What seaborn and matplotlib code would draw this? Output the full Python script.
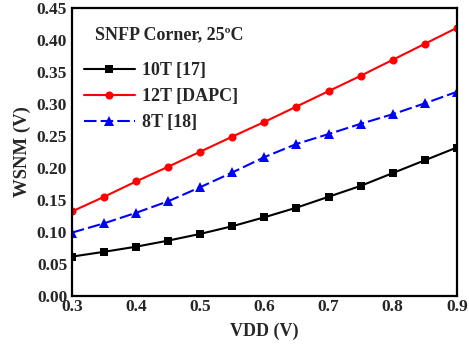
import matplotlib
matplotlib.use("Agg")
import matplotlib.pyplot as plt
import seaborn as sns
import pandas as pd
from matplotlib.ticker import MultipleLocator

vdd = [0.30, 0.35, 0.40, 0.45, 0.50, 0.55, 0.60, 0.65, 0.70, 0.75, 0.80, 0.85, 0.90]
wsnm_10t = [0.0615, 0.069, 0.077, 0.0865, 0.097, 0.109, 0.123, 0.138, 0.155, 0.172, 0.192, 0.212, 0.232]
wsnm_12t = [0.132, 0.155, 0.179, 0.202, 0.2255, 0.249, 0.272, 0.296, 0.320, 0.344, 0.369, 0.394, 0.419]
wsnm_8t = [0.099, 0.1135, 0.130, 0.148, 0.170, 0.193, 0.217, 0.2375, 0.253, 0.269, 0.284, 0.301, 0.319]
series_names = ["10T [17]", "12T [DAPC]", "8T [18]"]
x_ticks = [0.3, 0.4, 0.5, 0.6, 0.7, 0.8, 0.9]
y_ticks = [0.00, 0.05, 0.10, 0.15, 0.20, 0.25, 0.30, 0.35, 0.40, 0.45]

sns.set_style("white")
plt.rcParams["font.family"] = ["Liberation Serif", "DejaVu Serif"]
plt.rcParams["font.weight"] = "bold"

df = pd.DataFrame({
    "VDD": vdd * 3,
    "WSNM": wsnm_10t + wsnm_12t + wsnm_8t,
    "Cell": [series_names[0]] * len(vdd) + [series_names[1]] * len(vdd) + [series_names[2]] * len(vdd),
})

fig = plt.figure(figsize=(4.69, 3.49), dpi=100)
ax = fig.add_axes([0.1535, 0.152, 0.8205, 0.825])

palette = {series_names[0]: "black", series_names[1]: "red", series_names[2]: "blue"}
markers = {series_names[0]: "s", series_names[1]: "o", series_names[2]: "^"}
dashes = {series_names[0]: "", series_names[1]: "", series_names[2]: (6, 2)}

sns.lineplot(data=df, x="VDD", y="WSNM", hue="Cell", style="Cell",
             palette=palette, markers=markers, dashes=dashes,
             markersize=5.8, linewidth=1.5, markeredgewidth=0, ax=ax)
for ln in ax.get_lines():
    if ln.get_marker() == "^":
        ln.set_markersize(7.2)

ax.set_xlim(0.3, 0.9)
ax.set_ylim(0, 0.45)
ax.set_xticks(x_ticks)
ax.set_yticks(y_ticks)
ax.set_xticklabels([f"{v:.1f}" for v in x_ticks])
ax.set_yticklabels([f"{v:.2f}" for v in y_ticks])
ax.xaxis.set_minor_locator(MultipleLocator(0.05))
ax.yaxis.set_minor_locator(MultipleLocator(0.025))
ax.tick_params(which="both", direction="in", top=False, right=False, labelsize=12.5, width=1.2)
ax.tick_params(which="major", length=5)
ax.tick_params(which="minor", length=3)
ax.tick_params(axis="x", pad=2)
for lab in ax.get_xticklabels() + ax.get_yticklabels():
    lab.set_fontweight("bold")
for s in ax.spines.values():
    s.set_linewidth(1.6)
    s.set_color("black")

ax.set_xlabel("VDD (V)", fontsize=13, fontweight="bold", labelpad=6)
ax.set_ylabel("WSNM (V)", fontsize=13.5, fontweight="bold", labelpad=4)

ax.text(0.06, 0.906, "SNFP Corner, 25ºC", transform=ax.transAxes,
        fontsize=13, fontweight="bold", va="center", ha="left")

leg = ax.legend(loc="upper left", bbox_to_anchor=(0.0125, 0.837), frameon=False,
                fontsize=13, handlelength=2.8, handletextpad=0.4, labelspacing=0.5,
                borderaxespad=0.0)
for t in leg.get_texts():
    t.set_fontweight("bold")

fig.savefig("out.png", dpi=100)
